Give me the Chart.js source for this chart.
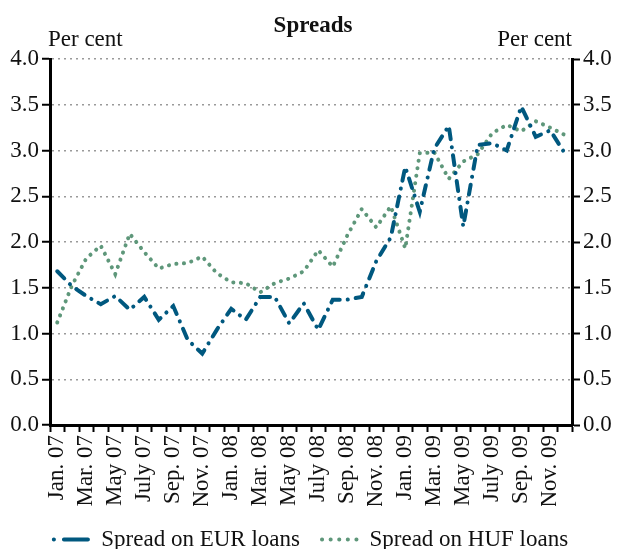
<!DOCTYPE html>
<html>
<head>
<meta charset="utf-8">
<script src="https://cdn.jsdelivr.net/npm/chart.js@4"></script>
<style>
  html, body { margin: 0; padding: 0; background: #fff; }
</style>
</head>
<body>
<canvas id="spreadChart" width="622" height="549"></canvas>
<script>
// monthly observations, Jan 2007 - Dec 2009
const months = [
  'Jan. 07', 'Feb. 07', 'Mar. 07', 'Apr. 07', 'May 07', 'June 07', 'July 07', 'Aug. 07', 'Sep. 07', 'Oct. 07', 'Nov. 07', 'Dec. 07',
  'Jan. 08', 'Feb. 08', 'Mar. 08', 'Apr. 08', 'May 08', 'June 08', 'July 08', 'Aug. 08', 'Sep. 08', 'Oct. 08', 'Nov. 08', 'Dec. 08',
  'Jan. 09', 'Feb. 09', 'Mar. 09', 'Apr. 09', 'May 09', 'June 09', 'July 09', 'Aug. 09', 'Sep. 09', 'Oct. 09', 'Nov. 09', 'Dec. 09'
];

const eurSpread = [
  1.68, 1.52, 1.41, 1.32, 1.41, 1.26, 1.40, 1.15, 1.30, 0.93, 0.78, 1.04,
  1.27, 1.15, 1.40, 1.40, 1.11, 1.33, 1.04, 1.37, 1.37, 1.40, 1.79, 2.05,
  2.82, 2.33, 3.02, 3.27, 2.17, 3.06, 3.08, 3.00, 3.48, 3.15, 3.22, 2.97
];

const hufSpread = [
  1.12, 1.52, 1.82, 1.96, 1.65, 2.09, 1.89, 1.71, 1.76, 1.77, 1.84, 1.66,
  1.56, 1.55, 1.45, 1.55, 1.60, 1.68, 1.91, 1.73, 2.07, 2.36, 2.16, 2.39,
  1.93, 2.97, 2.98, 2.69, 2.88, 2.96, 3.19, 3.28, 3.21, 3.32, 3.25, 3.17
];

const yMin = 0;
const yMax = 4;
const yStep = 0.5;

const serif = "'Liberation Serif', 'Times New Roman', serif";
Chart.defaults.font.family = serif;
Chart.defaults.font.size = 23;
Chart.defaults.color = '#111';

// chart title and the two "Per cent" unit labels
const headings = {
    id: 'headings',
    afterDraw(chart) {
        const { ctx, chartArea } = chart;
        ctx.save();
        ctx.fillStyle = '#111';
        ctx.textBaseline = 'alphabetic';
        ctx.font = 'bold 23px ' + serif;
        ctx.textAlign = 'center';
        ctx.fillText('Spreads', 313, 32);
        ctx.font = '23px ' + serif;
        ctx.textAlign = 'left';
        ctx.fillText('Per cent', chartArea.left - 2, 46);
        ctx.textAlign = 'right';
        ctx.fillText('Per cent', chartArea.right, 46);
        ctx.restore();
    }
};

const yTicks = {
    stepSize: yStep,
    padding: 3,
    callback: value => value.toFixed(1)
};

// legend samples: dot then dash for EUR, a row of dots for HUF
const legendDash = [[0.1, 10, 24, 40], [0.1, 8.5]];

const ctx = document.getElementById('spreadChart').getContext('2d');

const spreadChart = new Chart(ctx, {
    type: 'line',
    data: {
        labels: months,
        datasets: [{
            label: 'Spread on EUR loans',
            data: eurSpread,
            borderColor: '#00587f',
            backgroundColor: '#00587f',
            borderWidth: 4,
            borderDash: [10, 8, 0.1, 8],
            borderCapStyle: 'round',
            pointRadius: 0,
            pointStyle: 'line',
            tension: 0,
            yAxisID: 'y'
        }, {
            label: 'Spread on HUF loans',
            data: hufSpread,
            borderColor: '#5e977a',
            backgroundColor: '#5e977a',
            borderWidth: 4,
            borderDash: [0.1, 7.5],
            borderCapStyle: 'round',
            pointRadius: 0,
            pointStyle: 'line',
            tension: 0,
            yAxisID: 'y'
        }]
    },
    options: {
        responsive: false,
        animation: false,
        layout: {
            padding: { top: 59, left: 0, right: 0, bottom: -12 }
        },
        plugins: {
            title: { display: false },
            tooltip: { enabled: false },
            legend: {
                position: 'bottom',
                labels: {
                    usePointStyle: true,
                    pointStyleWidth: 36,
                    boxHeight: 4,
                    padding: 22,
                    color: '#111',
                    // point-style legend items lose the dataset dash, so put it back
                    generateLabels: chart => {
                        const items = Chart.defaults.plugins.legend.labels.generateLabels(chart);
                        return items.map(item => {
                            const ds = chart.data.datasets[item.datasetIndex];
                            item.lineDash = legendDash[item.datasetIndex];
                            item.lineCap = 'round';
                            item.lineWidth = ds.borderWidth;
                            item.strokeStyle = ds.borderColor;
                            return item;
                        });
                    }
                }
            }
        },
        scales: {
            x: {
                offset: true,
                grid: {
                    offset: true,
                    drawOnChartArea: false,
                    tickLength: 7,
                    tickWidth: 2,
                    tickColor: '#000'
                },
                border: { color: '#000', width: 3 },
                ticks: {
                    autoSkip: false,
                    maxRotation: 90,
                    minRotation: 90,
                    padding: 3,
                    callback: (value, index) => index % 2 === 0 ? months[index] : ''
                },
                afterFit: scale => { scale.height = 81; }
            },
            y: {
                position: 'left',
                min: yMin,
                max: yMax,
                ticks: yTicks,
                grid: {
                    color: '#9a9a9a',
                    lineWidth: 1.5,
                    tickLength: 8,
                    tickWidth: 2,
                    tickColor: '#000'
                },
                border: { color: '#000', width: 3, dash: [2, 4] },
                afterFit: scale => { scale.width = 50; }
            },
            y2: {
                position: 'right',
                min: yMin,
                max: yMax,
                ticks: yTicks,
                grid: {
                    drawOnChartArea: false,
                    tickLength: 8,
                    tickWidth: 2,
                    tickColor: '#000'
                },
                border: { color: '#000', width: 3 },
                afterFit: scale => { scale.width = 50; }
            }
        }
    },
    plugins: [headings]
});
</script>
</body>
</html>
